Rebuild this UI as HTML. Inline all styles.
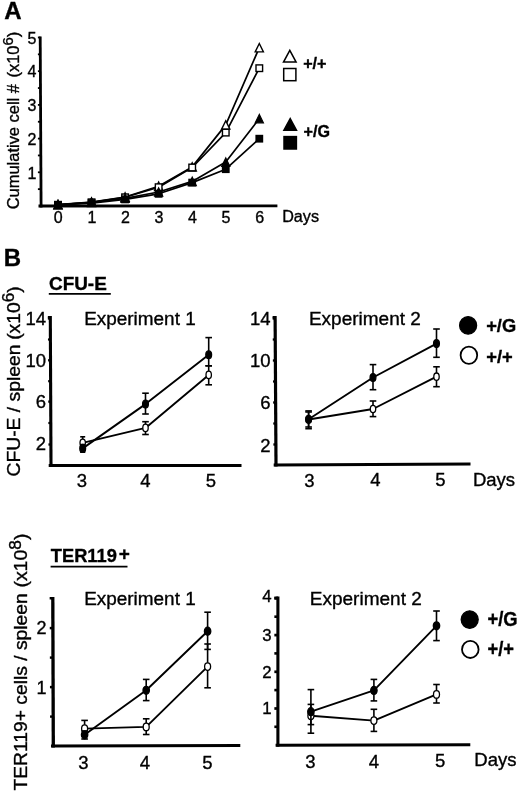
<!DOCTYPE html>
<html><head><meta charset="utf-8"><title>Figure</title>
<style>
html,body{margin:0;padding:0;background:#fff;}
body{width:520px;height:792px;overflow:hidden;}
svg{display:block;font-family:"Liberation Sans", sans-serif;fill:#000;filter:blur(0.45px);}
text{stroke:#000;stroke-width:0.35px;}
</style></head><body>
<svg width="520" height="792" viewBox="0 0 520 792">
<rect x="0" y="0" width="520" height="792" fill="#fff"/>
<text x="4.2" y="19" font-size="24" text-anchor="start" font-weight="bold">A</text>
<line x1="40.2" y1="36.5" x2="41.1" y2="207.4" stroke="#000" stroke-width="2.8" stroke-linecap="butt"/>
<line x1="38.5" y1="206.0" x2="277.4" y2="205.9" stroke="#000" stroke-width="2.8" stroke-linecap="butt"/>
<line x1="37.9" y1="189.15" x2="40.5" y2="189.15" stroke="#000" stroke-width="1.8" stroke-linecap="butt"/>
<line x1="37.9" y1="172.3" x2="40.5" y2="172.3" stroke="#000" stroke-width="1.8" stroke-linecap="butt"/>
<line x1="37.9" y1="155.45" x2="40.5" y2="155.45" stroke="#000" stroke-width="1.8" stroke-linecap="butt"/>
<line x1="37.9" y1="138.6" x2="40.5" y2="138.6" stroke="#000" stroke-width="1.8" stroke-linecap="butt"/>
<line x1="37.9" y1="121.75" x2="40.5" y2="121.75" stroke="#000" stroke-width="1.8" stroke-linecap="butt"/>
<line x1="37.9" y1="104.89999999999999" x2="40.5" y2="104.89999999999999" stroke="#000" stroke-width="1.8" stroke-linecap="butt"/>
<line x1="37.9" y1="88.04999999999998" x2="40.5" y2="88.04999999999998" stroke="#000" stroke-width="1.8" stroke-linecap="butt"/>
<line x1="37.9" y1="71.19999999999999" x2="40.5" y2="71.19999999999999" stroke="#000" stroke-width="1.8" stroke-linecap="butt"/>
<line x1="37.9" y1="54.349999999999994" x2="40.5" y2="54.349999999999994" stroke="#000" stroke-width="1.8" stroke-linecap="butt"/>
<line x1="37.9" y1="37.5" x2="40.5" y2="37.5" stroke="#000" stroke-width="1.8" stroke-linecap="butt"/>
<text x="36.4" y="178.5" font-size="16" text-anchor="end" font-weight="normal">1</text>
<text x="36.4" y="144.79999999999998" font-size="16" text-anchor="end" font-weight="normal">2</text>
<text x="36.4" y="111.1" font-size="16" text-anchor="end" font-weight="normal">3</text>
<text x="36.4" y="77.39999999999999" font-size="16" text-anchor="end" font-weight="normal">4</text>
<text x="36.4" y="43.7" font-size="16" text-anchor="end" font-weight="normal">5</text>
<text x="58.3" y="222.9" font-size="16" text-anchor="middle" font-weight="normal">0</text>
<text x="91.85" y="222.9" font-size="16" text-anchor="middle" font-weight="normal">1</text>
<text x="125.39999999999999" y="222.9" font-size="16" text-anchor="middle" font-weight="normal">2</text>
<text x="158.95" y="222.9" font-size="16" text-anchor="middle" font-weight="normal">3</text>
<text x="192.5" y="222.9" font-size="16" text-anchor="middle" font-weight="normal">4</text>
<text x="226.05" y="222.9" font-size="16" text-anchor="middle" font-weight="normal">5</text>
<text x="259.59999999999997" y="222.9" font-size="16" text-anchor="middle" font-weight="normal">6</text>
<text x="282.2" y="221.5" font-size="16" text-anchor="start" font-weight="normal" textLength="36.8" lengthAdjust="spacingAndGlyphs">Days</text>
<g transform="translate(18.6,209.3) rotate(-90)">
<text x="0" y="0" font-size="16" text-anchor="start" font-weight="normal" textLength="125.3" lengthAdjust="spacingAndGlyphs">Cumulative cell #</text>
</g>
<g transform="translate(18.6,77.6) rotate(-90)">
<text x="0" y="0" font-size="16" text-anchor="start" font-weight="normal" textLength="45.9" lengthAdjust="spacingAndGlyphs">(x10<tspan dy="-5.2" font-size="14.5">6</tspan><tspan dy="5.2">)</tspan></text>
</g>
<polyline fill="none" stroke="#000" stroke-width="1.7" stroke-linejoin="round" points="58.0,204.6 91.55,202.0 125.1,197.0 158.64999999999998,186.3 192.2,166.9 225.75,124.9 259.29999999999995,47.7"/>
<polyline fill="none" stroke="#000" stroke-width="1.7" stroke-linejoin="round" points="58.0,204.8 91.55,202.3 125.1,197.3 158.64999999999998,187.2 192.2,167.5 225.75,132.6 259.29999999999995,68.2"/>
<polyline fill="none" stroke="#000" stroke-width="1.7" stroke-linejoin="round" points="58.0,204.6 91.55,202.5 125.1,198.3 158.64999999999998,192.0 192.2,181.4 225.75,162.1 259.29999999999995,118.6"/>
<polyline fill="none" stroke="#000" stroke-width="1.7" stroke-linejoin="round" points="58.0,205.0 91.55,203.1 125.1,199.4 158.64999999999998,193.8 192.2,182.6 225.75,169.2 259.29999999999995,138.7"/>
<polygon points="58.0,200.42 53.9,208.78 62.1,208.78" fill="#fff" stroke="#000" stroke-width="1.4" stroke-linejoin="miter"/>
<polygon points="91.55,197.82 87.45,206.18 95.64999999999999,206.18" fill="#fff" stroke="#000" stroke-width="1.4" stroke-linejoin="miter"/>
<polygon points="125.1,192.82 121.0,201.18 129.2,201.18" fill="#fff" stroke="#000" stroke-width="1.4" stroke-linejoin="miter"/>
<polygon points="158.64999999999998,182.12 154.54999999999998,190.48 162.74999999999997,190.48" fill="#fff" stroke="#000" stroke-width="1.4" stroke-linejoin="miter"/>
<polygon points="192.2,162.72 188.1,171.08 196.29999999999998,171.08" fill="#fff" stroke="#000" stroke-width="1.4" stroke-linejoin="miter"/>
<polygon points="225.75,120.72 221.65,129.08 229.85,129.08" fill="#fff" stroke="#000" stroke-width="1.4" stroke-linejoin="miter"/>
<polygon points="259.29999999999995,43.52 255.19999999999996,51.88 263.4,51.88" fill="#fff" stroke="#000" stroke-width="1.4" stroke-linejoin="miter"/>
<rect x="54.7" y="201.5" width="6.6" height="6.6" fill="#fff" stroke="#000" stroke-width="1.4"/>
<rect x="88.25" y="199.0" width="6.6" height="6.6" fill="#fff" stroke="#000" stroke-width="1.4"/>
<rect x="121.8" y="194.0" width="6.6" height="6.6" fill="#fff" stroke="#000" stroke-width="1.4"/>
<rect x="155.34999999999997" y="183.89999999999998" width="6.6" height="6.6" fill="#fff" stroke="#000" stroke-width="1.4"/>
<rect x="188.89999999999998" y="164.2" width="6.6" height="6.6" fill="#fff" stroke="#000" stroke-width="1.4"/>
<rect x="222.45" y="129.29999999999998" width="6.6" height="6.6" fill="#fff" stroke="#000" stroke-width="1.4"/>
<rect x="255.99999999999994" y="64.9" width="6.6" height="6.6" fill="#fff" stroke="#000" stroke-width="1.4"/>
<polygon points="58.0,200.42 53.9,208.78 62.1,208.78" fill="#000" stroke="#000" stroke-width="1.2" stroke-linejoin="miter"/>
<rect x="54.7" y="201.7" width="6.6" height="6.6" fill="#000" stroke="#000" stroke-width="1.2"/>
<polygon points="91.55,198.32 87.45,206.68 95.64999999999999,206.68" fill="#000" stroke="#000" stroke-width="1.2" stroke-linejoin="miter"/>
<rect x="88.25" y="199.79999999999998" width="6.6" height="6.6" fill="#000" stroke="#000" stroke-width="1.2"/>
<polygon points="125.1,194.12 121.0,202.48 129.2,202.48" fill="#000" stroke="#000" stroke-width="1.2" stroke-linejoin="miter"/>
<rect x="121.8" y="196.1" width="6.6" height="6.6" fill="#000" stroke="#000" stroke-width="1.2"/>
<polygon points="158.64999999999998,187.82 154.54999999999998,196.18 162.74999999999997,196.18" fill="#000" stroke="#000" stroke-width="1.2" stroke-linejoin="miter"/>
<rect x="155.34999999999997" y="190.5" width="6.6" height="6.6" fill="#000" stroke="#000" stroke-width="1.2"/>
<polygon points="192.2,177.22 188.1,185.58 196.29999999999998,185.58" fill="#000" stroke="#000" stroke-width="1.2" stroke-linejoin="miter"/>
<rect x="188.89999999999998" y="179.29999999999998" width="6.6" height="6.6" fill="#000" stroke="#000" stroke-width="1.2"/>
<polygon points="225.75,157.92 221.65,166.28 229.85,166.28" fill="#000" stroke="#000" stroke-width="1.2" stroke-linejoin="miter"/>
<rect x="222.45" y="165.89999999999998" width="6.6" height="6.6" fill="#000" stroke="#000" stroke-width="1.2"/>
<polygon points="259.29999999999995,114.42 255.19999999999996,122.78 263.4,122.78" fill="#000" stroke="#000" stroke-width="1.2" stroke-linejoin="miter"/>
<rect x="255.99999999999994" y="135.39999999999998" width="6.6" height="6.6" fill="#000" stroke="#000" stroke-width="1.2"/>
<polygon points="289.8,50.34 283.5,62.06 296.1,62.06" fill="#fff" stroke="#000" stroke-width="1.5" stroke-linejoin="miter"/>
<rect x="283.7" y="68.5" width="12.2" height="12.2" fill="#fff" stroke="#000" stroke-width="1.5"/>
<polygon points="290.2,118.54 283.9,130.26 296.5,130.26" fill="#000" stroke="#000" stroke-width="1.5" stroke-linejoin="miter"/>
<rect x="284.0" y="136.60000000000002" width="12.4" height="12.4" fill="#000" stroke="#000" stroke-width="1.5"/>
<text x="303.2" y="69.4" font-size="16" text-anchor="start" font-weight="bold" textLength="23.3" lengthAdjust="spacingAndGlyphs">+/+</text>
<text x="303.5" y="136.6" font-size="16" text-anchor="start" font-weight="bold" textLength="26.4" lengthAdjust="spacingAndGlyphs">+/G</text>
<text x="3.7" y="265.5" font-size="24" text-anchor="start" font-weight="bold">B</text>
<text x="49" y="290.2" font-size="18.5" text-anchor="start" font-weight="bold" textLength="57.8" lengthAdjust="spacingAndGlyphs">CFU-E</text>
<line x1="48.8" y1="293.9" x2="110.8" y2="293.9" stroke="#000" stroke-width="1.7" stroke-linecap="butt"/>
<line x1="50.3" y1="316" x2="51.0070281124498" y2="466.9" stroke="#000" stroke-width="3.1" stroke-linecap="butt"/>
<line x1="47.85" y1="317.15" x2="50.3" y2="317.15" stroke="#000" stroke-width="2.3" stroke-linecap="butt"/>
<line x1="48.7" y1="465.4" x2="241.5" y2="465.4" stroke="#000" stroke-width="3.0" stroke-linecap="butt"/>
<line x1="47.86171352074967" y1="318.5" x2="50.31171352074966" y2="318.5" stroke="#000" stroke-width="2.3" stroke-linecap="butt"/>
<text x="46" y="325.1" font-size="18.5" text-anchor="end" font-weight="normal">14</text>
<line x1="48.05756358768407" y1="360.3" x2="50.50756358768407" y2="360.3" stroke="#000" stroke-width="2.3" stroke-linecap="butt"/>
<text x="46" y="366.90000000000003" font-size="18.5" text-anchor="end" font-weight="normal">10</text>
<line x1="48.251070950468545" y1="401.6" x2="50.70107095046854" y2="401.6" stroke="#000" stroke-width="2.3" stroke-linecap="butt"/>
<text x="46" y="407.6" font-size="18.5" text-anchor="end" font-weight="normal">6</text>
<line x1="48.4520749665328" y1="444.5" x2="50.902074966532794" y2="444.5" stroke="#000" stroke-width="2.3" stroke-linecap="butt"/>
<text x="46" y="450.3" font-size="18.5" text-anchor="end" font-weight="normal">2</text>
<line x1="47.96010709504686" y1="339.5" x2="50.410107095046854" y2="339.5" stroke="#000" stroke-width="2.1999999999999997" stroke-linecap="butt"/>
<line x1="48.15548862115127" y1="381.2" x2="50.60548862115127" y2="381.2" stroke="#000" stroke-width="2.1999999999999997" stroke-linecap="butt"/>
<line x1="48.35133868808568" y1="423.0" x2="50.80133868808568" y2="423.0" stroke="#000" stroke-width="2.1999999999999997" stroke-linecap="butt"/>
<text x="81.8" y="487.4" font-size="18.5" text-anchor="middle" font-weight="normal">3</text>
<text x="145.3" y="487.4" font-size="18.5" text-anchor="middle" font-weight="normal">4</text>
<text x="210.9" y="487.4" font-size="18.5" text-anchor="middle" font-weight="normal">5</text>
<text x="84.2" y="324.6" font-size="18.8" text-anchor="start" font-weight="normal" textLength="111.5" lengthAdjust="spacingAndGlyphs">Experiment 1</text>
<polyline fill="none" stroke="#000" stroke-width="1.9" stroke-linejoin="round" points="82.7,442.8 145.5,427.9 208.7,374.9"/>
<polyline fill="none" stroke="#000" stroke-width="1.9" stroke-linejoin="round" points="82.7,448.4 145.5,404.1 208.7,354.8"/>
<line x1="82.7" y1="436.8" x2="82.7" y2="447" stroke="#000" stroke-width="1.6" stroke-linecap="butt"/>
<line x1="80.2" y1="436.8" x2="85.2" y2="436.8" stroke="#000" stroke-width="1.6" stroke-linecap="butt"/>
<line x1="80.2" y1="447" x2="85.2" y2="447" stroke="#000" stroke-width="1.6" stroke-linecap="butt"/>
<line x1="145.5" y1="421.7" x2="145.5" y2="434.5" stroke="#000" stroke-width="1.6" stroke-linecap="butt"/>
<line x1="142.2" y1="421.7" x2="148.8" y2="421.7" stroke="#000" stroke-width="1.6" stroke-linecap="butt"/>
<line x1="142.2" y1="434.5" x2="148.8" y2="434.5" stroke="#000" stroke-width="1.6" stroke-linecap="butt"/>
<line x1="208.7" y1="365.8" x2="208.7" y2="384.8" stroke="#000" stroke-width="1.6" stroke-linecap="butt"/>
<line x1="205.39999999999998" y1="365.8" x2="212.0" y2="365.8" stroke="#000" stroke-width="1.6" stroke-linecap="butt"/>
<line x1="205.39999999999998" y1="384.8" x2="212.0" y2="384.8" stroke="#000" stroke-width="1.6" stroke-linecap="butt"/>
<ellipse cx="82.7" cy="442.8" rx="2.7" ry="3.7" fill="#fff" stroke="#000" stroke-width="1.3"/>
<ellipse cx="145.5" cy="427.9" rx="2.7" ry="3.7" fill="#fff" stroke="#000" stroke-width="1.3"/>
<ellipse cx="208.7" cy="374.9" rx="2.7" ry="3.7" fill="#fff" stroke="#000" stroke-width="1.3"/>
<line x1="82.7" y1="444.6" x2="82.7" y2="452.2" stroke="#000" stroke-width="1.6" stroke-linecap="butt"/>
<line x1="80.10000000000001" y1="444.6" x2="85.3" y2="444.6" stroke="#000" stroke-width="1.6" stroke-linecap="butt"/>
<line x1="80.10000000000001" y1="452.2" x2="85.3" y2="452.2" stroke="#000" stroke-width="1.6" stroke-linecap="butt"/>
<line x1="145.5" y1="393.2" x2="145.5" y2="414" stroke="#000" stroke-width="1.6" stroke-linecap="butt"/>
<line x1="142.2" y1="393.2" x2="148.8" y2="393.2" stroke="#000" stroke-width="1.6" stroke-linecap="butt"/>
<line x1="142.2" y1="414" x2="148.8" y2="414" stroke="#000" stroke-width="1.6" stroke-linecap="butt"/>
<line x1="208.7" y1="337.6" x2="208.7" y2="365.8" stroke="#000" stroke-width="1.6" stroke-linecap="butt"/>
<line x1="205.39999999999998" y1="337.6" x2="212.0" y2="337.6" stroke="#000" stroke-width="1.6" stroke-linecap="butt"/>
<line x1="205.39999999999998" y1="365.8" x2="212.0" y2="365.8" stroke="#000" stroke-width="1.6" stroke-linecap="butt"/>
<ellipse cx="82.7" cy="448.4" rx="2.9" ry="3.9" fill="#000" stroke="#000" stroke-width="1.3"/>
<ellipse cx="145.5" cy="404.1" rx="2.9" ry="3.9" fill="#000" stroke="#000" stroke-width="1.3"/>
<ellipse cx="208.7" cy="354.8" rx="2.9" ry="3.9" fill="#000" stroke="#000" stroke-width="1.3"/>
<line x1="275.1" y1="316" x2="276.0090664875756" y2="466.4" stroke="#000" stroke-width="3.2" stroke-linecap="butt"/>
<line x1="272.6" y1="317.15" x2="275.1" y2="317.15" stroke="#000" stroke-width="2.3" stroke-linecap="butt"/>
<line x1="273.7" y1="464.9" x2="470.5" y2="463.9" stroke="#000" stroke-width="3.0" stroke-linecap="butt"/>
<line x1="272.61511081262597" y1="318.5" x2="275.11511081262597" y2="318.5" stroke="#000" stroke-width="2.3" stroke-linecap="butt"/>
<text x="270.6" y="324.8" font-size="18.5" text-anchor="end" font-weight="normal">14</text>
<line x1="272.86897246474143" y1="360.5" x2="275.36897246474143" y2="360.5" stroke="#000" stroke-width="2.3" stroke-linecap="butt"/>
<text x="270.6" y="366.8" font-size="18.5" text-anchor="end" font-weight="normal">10</text>
<line x1="273.12283411685695" y1="402.5" x2="275.62283411685695" y2="402.5" stroke="#000" stroke-width="2.3" stroke-linecap="butt"/>
<text x="270.6" y="409.1" font-size="18.5" text-anchor="end" font-weight="normal">6</text>
<line x1="273.37669576897247" y1="444.5" x2="275.87669576897247" y2="444.5" stroke="#000" stroke-width="2.3" stroke-linecap="butt"/>
<text x="270.6" y="452.3" font-size="18.5" text-anchor="end" font-weight="normal">2</text>
<line x1="272.7420416386837" y1="339.5" x2="275.2420416386837" y2="339.5" stroke="#000" stroke-width="2.1999999999999997" stroke-linecap="butt"/>
<line x1="272.9959032907992" y1="381.5" x2="275.4959032907992" y2="381.5" stroke="#000" stroke-width="2.1999999999999997" stroke-linecap="butt"/>
<line x1="273.24976494291474" y1="423.5" x2="275.74976494291474" y2="423.5" stroke="#000" stroke-width="2.1999999999999997" stroke-linecap="butt"/>
<text x="309.3" y="486.9" font-size="18.5" text-anchor="middle" font-weight="normal">3</text>
<text x="375.3" y="486.29999999999995" font-size="18.5" text-anchor="middle" font-weight="normal">4</text>
<text x="440.3" y="485.7" font-size="18.5" text-anchor="middle" font-weight="normal">5</text>
<text x="308.9" y="324.5" font-size="18.8" text-anchor="start" font-weight="normal" textLength="112" lengthAdjust="spacingAndGlyphs">Experiment 2</text>
<polyline fill="none" stroke="#000" stroke-width="1.9" stroke-linejoin="round" points="308.6,419.5 373,409 436.5,376.7"/>
<polyline fill="none" stroke="#000" stroke-width="1.9" stroke-linejoin="round" points="308.6,419.3 373,377.5 436.5,343.6"/>
<line x1="308.6" y1="412" x2="308.6" y2="427" stroke="#000" stroke-width="1.6" stroke-linecap="butt"/>
<line x1="305.3" y1="412" x2="311.90000000000003" y2="412" stroke="#000" stroke-width="1.6" stroke-linecap="butt"/>
<line x1="305.3" y1="427" x2="311.90000000000003" y2="427" stroke="#000" stroke-width="1.6" stroke-linecap="butt"/>
<line x1="373" y1="401" x2="373" y2="416.6" stroke="#000" stroke-width="1.6" stroke-linecap="butt"/>
<line x1="369.7" y1="401" x2="376.3" y2="401" stroke="#000" stroke-width="1.6" stroke-linecap="butt"/>
<line x1="369.7" y1="416.6" x2="376.3" y2="416.6" stroke="#000" stroke-width="1.6" stroke-linecap="butt"/>
<line x1="436.5" y1="366.8" x2="436.5" y2="386.7" stroke="#000" stroke-width="1.6" stroke-linecap="butt"/>
<line x1="433.2" y1="366.8" x2="439.8" y2="366.8" stroke="#000" stroke-width="1.6" stroke-linecap="butt"/>
<line x1="433.2" y1="386.7" x2="439.8" y2="386.7" stroke="#000" stroke-width="1.6" stroke-linecap="butt"/>
<ellipse cx="308.6" cy="419.5" rx="2.7" ry="3.7" fill="#fff" stroke="#000" stroke-width="1.3"/>
<ellipse cx="373" cy="409" rx="2.7" ry="3.7" fill="#fff" stroke="#000" stroke-width="1.3"/>
<ellipse cx="436.5" cy="376.7" rx="2.7" ry="3.7" fill="#fff" stroke="#000" stroke-width="1.3"/>
<line x1="308.6" y1="410.9" x2="308.6" y2="428.7" stroke="#000" stroke-width="1.6" stroke-linecap="butt"/>
<line x1="305.3" y1="410.9" x2="311.90000000000003" y2="410.9" stroke="#000" stroke-width="1.6" stroke-linecap="butt"/>
<line x1="305.3" y1="428.7" x2="311.90000000000003" y2="428.7" stroke="#000" stroke-width="1.6" stroke-linecap="butt"/>
<line x1="373" y1="364.6" x2="373" y2="389.7" stroke="#000" stroke-width="1.6" stroke-linecap="butt"/>
<line x1="369.7" y1="364.6" x2="376.3" y2="364.6" stroke="#000" stroke-width="1.6" stroke-linecap="butt"/>
<line x1="369.7" y1="389.7" x2="376.3" y2="389.7" stroke="#000" stroke-width="1.6" stroke-linecap="butt"/>
<line x1="436.5" y1="329" x2="436.5" y2="357.3" stroke="#000" stroke-width="1.6" stroke-linecap="butt"/>
<line x1="433.2" y1="329" x2="439.8" y2="329" stroke="#000" stroke-width="1.6" stroke-linecap="butt"/>
<line x1="433.2" y1="357.3" x2="439.8" y2="357.3" stroke="#000" stroke-width="1.6" stroke-linecap="butt"/>
<ellipse cx="308.6" cy="419.3" rx="2.9" ry="3.9" fill="#000" stroke="#000" stroke-width="1.3"/>
<ellipse cx="373" cy="377.5" rx="2.9" ry="3.9" fill="#000" stroke="#000" stroke-width="1.3"/>
<ellipse cx="436.5" cy="343.6" rx="2.9" ry="3.9" fill="#000" stroke="#000" stroke-width="1.3"/>
<text x="472.9" y="485.8" font-size="18.5" text-anchor="start" font-weight="normal" textLength="42.2" lengthAdjust="spacingAndGlyphs">Days</text>
<ellipse cx="468.1" cy="325.4" rx="8.5" ry="8.8" fill="#000" stroke="#000" stroke-width="1.3"/>
<ellipse cx="468.9" cy="355.2" rx="8.3" ry="8.6" fill="#fff" stroke="#000" stroke-width="1.8"/>
<text x="486.2" y="331.8" font-size="19" text-anchor="start" font-weight="bold" textLength="30" lengthAdjust="spacingAndGlyphs">+/G</text>
<text x="486.2" y="362.7" font-size="19" text-anchor="start" font-weight="bold" textLength="26.5" lengthAdjust="spacingAndGlyphs">+/+</text>
<g transform="translate(20.2,476.5) rotate(-90)">
<text x="0" y="0" font-size="18" text-anchor="start" font-weight="normal" textLength="132" lengthAdjust="spacingAndGlyphs">CFU-E / spleen</text>
</g>
<g transform="translate(20.2,339.8) rotate(-90)">
<text x="0" y="0" font-size="18" text-anchor="start" font-weight="normal" textLength="53.5" lengthAdjust="spacingAndGlyphs">(x10<tspan dy="-5.8" font-size="16">6</tspan><tspan dy="5.8">)</tspan></text>
</g>
<text x="50.8" y="562.3" font-size="18.5" text-anchor="start" font-weight="bold" textLength="66" lengthAdjust="spacingAndGlyphs">TER119</text>
<text x="118.8" y="560.0" font-size="19" text-anchor="start" font-weight="bold">+</text>
<line x1="50.6" y1="566.6" x2="127.5" y2="566.6" stroke="#000" stroke-width="1.7" stroke-linecap="butt"/>
<line x1="52.8" y1="597" x2="53.305030181086515" y2="747.6" stroke="#000" stroke-width="3.3" stroke-linecap="butt"/>
<line x1="49.65" y1="598.25" x2="52.8" y2="598.25" stroke="#000" stroke-width="2.5" stroke-linecap="butt"/>
<line x1="51.0" y1="746.1" x2="240.3" y2="745.5" stroke="#000" stroke-width="3.0" stroke-linecap="butt"/>
<line x1="49.75429242119383" y1="628.1" x2="52.90429242119383" y2="628.1" stroke="#000" stroke-width="2.5" stroke-linecap="butt"/>
<text x="46.6" y="634.0" font-size="18" text-anchor="end" font-weight="normal">2</text>
<line x1="49.952146210596915" y1="687.1" x2="53.10214621059691" y2="687.1" stroke="#000" stroke-width="2.5" stroke-linecap="butt"/>
<text x="46.6" y="694.4000000000001" font-size="18" text-anchor="end" font-weight="normal">1</text>
<line x1="49.85321931589537" y1="657.6" x2="53.00321931589537" y2="657.6" stroke="#000" stroke-width="2.4" stroke-linecap="butt"/>
<line x1="50.05107310529846" y1="716.6" x2="53.201073105298455" y2="716.6" stroke="#000" stroke-width="2.4" stroke-linecap="butt"/>
<text x="83.4" y="768.7" font-size="18.5" text-anchor="middle" font-weight="normal">3</text>
<text x="144.9" y="768.7" font-size="18.5" text-anchor="middle" font-weight="normal">4</text>
<text x="207.5" y="768.7" font-size="18.5" text-anchor="middle" font-weight="normal">5</text>
<text x="84.2" y="604.6" font-size="18.8" text-anchor="start" font-weight="normal" textLength="111.5" lengthAdjust="spacingAndGlyphs">Experiment 1</text>
<polyline fill="none" stroke="#000" stroke-width="1.9" stroke-linejoin="round" points="84.6,728.6 146.2,726.9 207.6,666.6"/>
<polyline fill="none" stroke="#000" stroke-width="1.9" stroke-linejoin="round" points="84.6,734.8 146.2,690.3 207.6,631.2"/>
<line x1="84.6" y1="720.4" x2="84.6" y2="736" stroke="#000" stroke-width="1.6" stroke-linecap="butt"/>
<line x1="81.3" y1="720.4" x2="87.89999999999999" y2="720.4" stroke="#000" stroke-width="1.6" stroke-linecap="butt"/>
<line x1="81.3" y1="736" x2="87.89999999999999" y2="736" stroke="#000" stroke-width="1.6" stroke-linecap="butt"/>
<line x1="146.2" y1="718.8" x2="146.2" y2="734.5" stroke="#000" stroke-width="1.6" stroke-linecap="butt"/>
<line x1="142.89999999999998" y1="718.8" x2="149.5" y2="718.8" stroke="#000" stroke-width="1.6" stroke-linecap="butt"/>
<line x1="142.89999999999998" y1="734.5" x2="149.5" y2="734.5" stroke="#000" stroke-width="1.6" stroke-linecap="butt"/>
<line x1="207.6" y1="644" x2="207.6" y2="687.8" stroke="#000" stroke-width="1.6" stroke-linecap="butt"/>
<line x1="204.29999999999998" y1="644" x2="210.9" y2="644" stroke="#000" stroke-width="1.6" stroke-linecap="butt"/>
<line x1="204.29999999999998" y1="687.8" x2="210.9" y2="687.8" stroke="#000" stroke-width="1.6" stroke-linecap="butt"/>
<ellipse cx="84.6" cy="728.6" rx="3.0" ry="3.8" fill="#fff" stroke="#000" stroke-width="1.3"/>
<ellipse cx="146.2" cy="726.9" rx="3.0" ry="3.8" fill="#fff" stroke="#000" stroke-width="1.3"/>
<ellipse cx="207.6" cy="666.6" rx="3.0" ry="3.8" fill="#fff" stroke="#000" stroke-width="1.3"/>
<line x1="84.6" y1="731" x2="84.6" y2="739" stroke="#000" stroke-width="1.6" stroke-linecap="butt"/>
<line x1="81.3" y1="731" x2="87.89999999999999" y2="731" stroke="#000" stroke-width="1.6" stroke-linecap="butt"/>
<line x1="81.3" y1="739" x2="87.89999999999999" y2="739" stroke="#000" stroke-width="1.6" stroke-linecap="butt"/>
<line x1="146.2" y1="679.4" x2="146.2" y2="700.6" stroke="#000" stroke-width="1.6" stroke-linecap="butt"/>
<line x1="142.89999999999998" y1="679.4" x2="149.5" y2="679.4" stroke="#000" stroke-width="1.6" stroke-linecap="butt"/>
<line x1="142.89999999999998" y1="700.6" x2="149.5" y2="700.6" stroke="#000" stroke-width="1.6" stroke-linecap="butt"/>
<line x1="207.6" y1="612.2" x2="207.6" y2="649.4" stroke="#000" stroke-width="1.6" stroke-linecap="butt"/>
<line x1="204.29999999999998" y1="612.2" x2="210.9" y2="612.2" stroke="#000" stroke-width="1.6" stroke-linecap="butt"/>
<line x1="204.29999999999998" y1="649.4" x2="210.9" y2="649.4" stroke="#000" stroke-width="1.6" stroke-linecap="butt"/>
<ellipse cx="84.6" cy="734.8" rx="3.2" ry="4.0" fill="#000" stroke="#000" stroke-width="1.3"/>
<ellipse cx="146.2" cy="690.3" rx="3.2" ry="4.0" fill="#000" stroke="#000" stroke-width="1.3"/>
<ellipse cx="207.6" cy="631.2" rx="3.2" ry="4.0" fill="#000" stroke="#000" stroke-width="1.3"/>
<line x1="277.9" y1="596.5" x2="277.9" y2="746.7" stroke="#000" stroke-width="3.1" stroke-linecap="butt"/>
<line x1="274.34999999999997" y1="597.85" x2="277.9" y2="597.85" stroke="#000" stroke-width="2.7" stroke-linecap="butt"/>
<line x1="275.59999999999997" y1="745.2" x2="470.3" y2="744.8" stroke="#000" stroke-width="3.0" stroke-linecap="butt"/>
<line x1="274.34999999999997" y1="598.4" x2="277.9" y2="598.4" stroke="#000" stroke-width="2.7" stroke-linecap="butt"/>
<text x="271.5" y="601.9999999999999" font-size="16.8" text-anchor="end" font-weight="normal">4</text>
<line x1="274.34999999999997" y1="635.1" x2="277.9" y2="635.1" stroke="#000" stroke-width="2.7" stroke-linecap="butt"/>
<text x="271.5" y="640.6999999999999" font-size="16.8" text-anchor="end" font-weight="normal">3</text>
<line x1="274.34999999999997" y1="671.8" x2="277.9" y2="671.8" stroke="#000" stroke-width="2.7" stroke-linecap="butt"/>
<text x="271.5" y="677.4999999999999" font-size="16.8" text-anchor="end" font-weight="normal">2</text>
<line x1="274.34999999999997" y1="708.5" x2="277.9" y2="708.5" stroke="#000" stroke-width="2.7" stroke-linecap="butt"/>
<text x="271.5" y="714.3" font-size="16.8" text-anchor="end" font-weight="normal">1</text>
<line x1="274.34999999999997" y1="616.7" x2="277.9" y2="616.7" stroke="#000" stroke-width="2.6" stroke-linecap="butt"/>
<line x1="274.34999999999997" y1="653.4" x2="277.9" y2="653.4" stroke="#000" stroke-width="2.6" stroke-linecap="butt"/>
<line x1="274.34999999999997" y1="690.1" x2="277.9" y2="690.1" stroke="#000" stroke-width="2.6" stroke-linecap="butt"/>
<line x1="274.34999999999997" y1="726.8" x2="277.9" y2="726.8" stroke="#000" stroke-width="2.6" stroke-linecap="butt"/>
<text x="310.5" y="768.1" font-size="18.5" text-anchor="middle" font-weight="normal">3</text>
<text x="373.9" y="767.7" font-size="18.5" text-anchor="middle" font-weight="normal">4</text>
<text x="440.2" y="767.3000000000001" font-size="18.5" text-anchor="middle" font-weight="normal">5</text>
<text x="309.8" y="604.6" font-size="18.8" text-anchor="start" font-weight="normal" textLength="112" lengthAdjust="spacingAndGlyphs">Experiment 2</text>
<polyline fill="none" stroke="#000" stroke-width="1.9" stroke-linejoin="round" points="310.9,715.7 373.9,720.6 436.5,694.4"/>
<polyline fill="none" stroke="#000" stroke-width="1.9" stroke-linejoin="round" points="310.9,711.7 373.9,690.4 436.5,625.8"/>
<line x1="310.9" y1="704.4" x2="310.9" y2="724.6" stroke="#000" stroke-width="1.6" stroke-linecap="butt"/>
<line x1="307.59999999999997" y1="704.4" x2="314.2" y2="704.4" stroke="#000" stroke-width="1.6" stroke-linecap="butt"/>
<line x1="307.59999999999997" y1="724.6" x2="314.2" y2="724.6" stroke="#000" stroke-width="1.6" stroke-linecap="butt"/>
<line x1="373.9" y1="709.3" x2="373.9" y2="731.4" stroke="#000" stroke-width="1.6" stroke-linecap="butt"/>
<line x1="370.59999999999997" y1="709.3" x2="377.2" y2="709.3" stroke="#000" stroke-width="1.6" stroke-linecap="butt"/>
<line x1="370.59999999999997" y1="731.4" x2="377.2" y2="731.4" stroke="#000" stroke-width="1.6" stroke-linecap="butt"/>
<line x1="436.5" y1="684.5" x2="436.5" y2="703" stroke="#000" stroke-width="1.6" stroke-linecap="butt"/>
<line x1="433.2" y1="684.5" x2="439.8" y2="684.5" stroke="#000" stroke-width="1.6" stroke-linecap="butt"/>
<line x1="433.2" y1="703" x2="439.8" y2="703" stroke="#000" stroke-width="1.6" stroke-linecap="butt"/>
<ellipse cx="310.9" cy="715.7" rx="3.0" ry="3.8" fill="#fff" stroke="#000" stroke-width="1.3"/>
<ellipse cx="373.9" cy="720.6" rx="3.0" ry="3.8" fill="#fff" stroke="#000" stroke-width="1.3"/>
<ellipse cx="436.5" cy="694.4" rx="3.0" ry="3.8" fill="#fff" stroke="#000" stroke-width="1.3"/>
<line x1="310.9" y1="689.6" x2="310.9" y2="733.2" stroke="#000" stroke-width="1.6" stroke-linecap="butt"/>
<line x1="307.59999999999997" y1="689.6" x2="314.2" y2="689.6" stroke="#000" stroke-width="1.6" stroke-linecap="butt"/>
<line x1="307.59999999999997" y1="733.2" x2="314.2" y2="733.2" stroke="#000" stroke-width="1.6" stroke-linecap="butt"/>
<line x1="373.9" y1="679.4" x2="373.9" y2="700.9" stroke="#000" stroke-width="1.6" stroke-linecap="butt"/>
<line x1="370.59999999999997" y1="679.4" x2="377.2" y2="679.4" stroke="#000" stroke-width="1.6" stroke-linecap="butt"/>
<line x1="370.59999999999997" y1="700.9" x2="377.2" y2="700.9" stroke="#000" stroke-width="1.6" stroke-linecap="butt"/>
<line x1="436.5" y1="611" x2="436.5" y2="640.6" stroke="#000" stroke-width="1.6" stroke-linecap="butt"/>
<line x1="433.2" y1="611" x2="439.8" y2="611" stroke="#000" stroke-width="1.6" stroke-linecap="butt"/>
<line x1="433.2" y1="640.6" x2="439.8" y2="640.6" stroke="#000" stroke-width="1.6" stroke-linecap="butt"/>
<ellipse cx="310.9" cy="711.7" rx="3.2" ry="4.0" fill="#000" stroke="#000" stroke-width="1.3"/>
<ellipse cx="373.9" cy="690.4" rx="3.2" ry="4.0" fill="#000" stroke="#000" stroke-width="1.3"/>
<ellipse cx="436.5" cy="625.8" rx="3.2" ry="4.0" fill="#000" stroke="#000" stroke-width="1.3"/>
<text x="474.3" y="766.4" font-size="18.5" text-anchor="start" font-weight="normal" textLength="42.2" lengthAdjust="spacingAndGlyphs">Days</text>
<ellipse cx="469.7" cy="619.6" rx="8.5" ry="8.8" fill="#000" stroke="#000" stroke-width="1.3"/>
<ellipse cx="470.3" cy="649.4" rx="8.3" ry="8.6" fill="#fff" stroke="#000" stroke-width="1.8"/>
<text x="487.5" y="625.6" font-size="19.5" text-anchor="start" font-weight="bold" textLength="30.2" lengthAdjust="spacingAndGlyphs">+/G</text>
<text x="487.5" y="656.4" font-size="19.5" text-anchor="start" font-weight="bold" textLength="26.5" lengthAdjust="spacingAndGlyphs">+/+</text>
<g transform="translate(26.7,790.6) rotate(-90)">
<text x="0" y="0" font-size="18" text-anchor="start" font-weight="normal" textLength="197.4" lengthAdjust="spacingAndGlyphs">TER119+ cells / spleen</text>
</g>
<g transform="translate(26.7,587.6) rotate(-90)">
<text x="0" y="0" font-size="18" text-anchor="start" font-weight="normal" textLength="54" lengthAdjust="spacingAndGlyphs">(x10<tspan dy="-5.8" font-size="16">8</tspan><tspan dy="5.8">)</tspan></text>
</g>
</svg>
</body></html>
